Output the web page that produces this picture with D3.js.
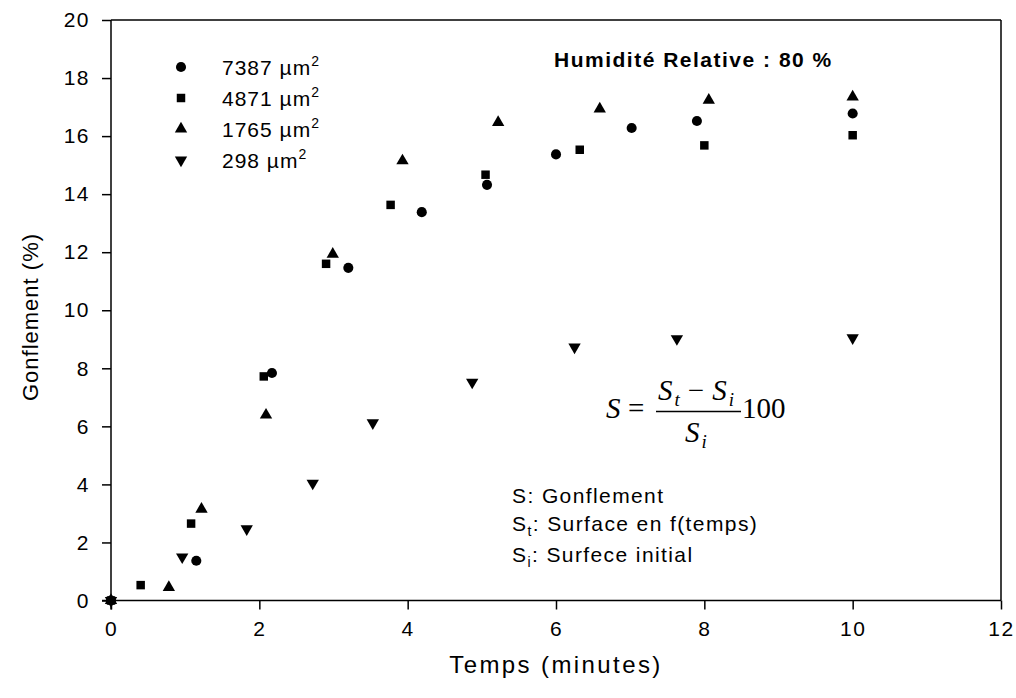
<!DOCTYPE html>
<html>
<head>
<meta charset="utf-8">
<script src="https://cdn.jsdelivr.net/npm/d3@7"></script>
<style>
  body { margin: 0; background: #fff; }
  text { font-family: Arial, "Liberation Sans", sans-serif; fill: #000; }
  .axis path, .axis line { stroke: #000; stroke-width: 1.5px; }
  .axis text { font-size: 21px; letter-spacing: 1.5px; }
  .formula text { font-family: "Times New Roman", "Liberation Serif", serif; font-style: italic; font-size: 29px; }
</style>
</head>
<body>
<div class="chart-area"></div>
<script>
var seriesNames = [ "7387", "4871", "1765", "298" ];

var t7387 = [ 0, 1.15, 2.17, 3.20, 4.19, 5.07, 6.00, 7.02, 7.90, 10.0 ],
    g7387 = [ 0, 1.37, 7.84, 11.46, 13.38, 14.32, 15.37, 16.28, 16.52, 16.78 ];
var t4871 = [ 0, 0.40, 1.08, 2.06, 2.90, 3.77, 5.05, 6.32, 8.00, 10.0 ],
    g4871 = [ 0, 0.53, 2.65, 7.72, 11.60, 13.63, 14.67, 15.53, 15.68, 16.03 ];
var t1765 = [ 0, 0.78, 1.22, 2.09, 2.99, 3.93, 5.22, 6.59, 8.06, 10.0 ],
    g1765 = [ 0, 0.45, 3.15, 6.39, 11.93, 15.15, 16.47, 16.94, 17.24, 17.35 ];
var t298  = [ 0, 0.96, 1.83, 2.72, 3.53, 4.87, 6.25, 7.63, 10.0 ],
    g298  = [ 0, 1.50, 2.47, 4.04, 6.12, 7.52, 8.73, 9.02, 9.05 ];

var xTicks = [ 0, 2, 4, 6, 8, 10, 12 ],
    yTicks = [ 0, 2, 4, 6, 8, 10, 12, 14, 16, 18, 20 ];

var times = [ t7387, t4871, t1765, t298 ],
    values = [ g7387, g4871, g1765, g298 ];

var width = 1016,
    height = 698,
    margin = { top: 20, right: 15, bottom: 97, left: 111 };

var symbols = [ d3.symbolCircle, d3.symbolSquare, d3.symbolTriangle, d3.symbolTriangle ],
    symbolSizes = [ 80, 72, 66, 66 ];

var svg = d3.select(".chart-area")
            .append("svg")
            .attr("width", width)
            .attr("height", height);

var x = d3.scaleLinear().domain([0, 12]).range([0, 890]),
    y = d3.scaleLinear().domain([0, 20]).range([580.5, 0]);

var g = svg.append("g")
           .attr("transform", "translate(" + margin.left + "," + margin.top + ")");

// frame (top and right)
g.append("line").attr("x1", 0).attr("x2", x(12)).attr("y1", y(20)).attr("y2", y(20))
 .attr("stroke", "#000").attr("stroke-width", 1.5);
g.append("line").attr("x1", x(12)).attr("x2", x(12)).attr("y1", y(20)).attr("y2", y(0))
 .attr("stroke", "#000").attr("stroke-width", 1.5);

g.append("g")
 .attr("class", "axis")
 .attr("transform", "translate(0," + y(0) + ")")
 .call(d3.axisBottom(x).tickValues(xTicks).tickSize(9).tickPadding(12).tickSizeOuter(0))
 .call(function(s) { s.select(".domain").remove(); })
 .append("line").attr("x1", -9).attr("x2", x(12)).attr("stroke", "#000").attr("stroke-width", 1.5);

g.append("g")
 .attr("class", "axis")
 .call(d3.axisLeft(y).tickValues(yTicks).tickSize(9).tickPadding(12).tickSizeOuter(0))
 .call(function(s) { s.select(".domain").remove(); })
 .append("line").attr("y1", 0).attr("y2", y(0) + 9).attr("stroke", "#000").attr("stroke-width", 1.5);

// points
seriesNames.forEach(function(name, k) {
  var pts = times[k].map(function(t, i) { return [t, values[k][i]]; });
  g.selectAll(".pt" + k)
   .data(pts)
   .enter()
   .append("path")
   .attr("class", "pt" + k)
   .attr("d", d3.symbol().type(symbols[k]).size(symbolSizes[k]))
   .attr("fill", "#000")
   .attr("transform", function(d) {
     return "translate(" + x(d[0]) + "," + y(d[1]) + ")" + (k == 3 ? " rotate(180)" : "");
   });
});

// legend
var legendY = [ 67, 98, 129, 160 ];
seriesNames.forEach(function(name, k) {
  svg.append("path")
     .attr("d", d3.symbol().type(symbols[k]).size(symbolSizes[k]))
     .attr("fill", "#000")
     .attr("transform", "translate(181," + legendY[k] + ")" + (k == 3 ? " rotate(180)" : ""));
  var t = svg.append("text")
     .attr("x", 222)
     .attr("y", legendY[k] + 8)
     .style("font-size", "21px")
     .style("letter-spacing", "1px");
  t.append("tspan").text(name + " \u00b5m");
  t.append("tspan").attr("dy", -9).style("font-size", "14px").text("2");
});

svg.append("text")
   .attr("x", 554)
   .attr("y", 67)
   .style("font-size", "21px")
   .style("font-weight", "bold")
   .style("letter-spacing", "1.5px")
   .text("Humidité Relative : 80 %");

// formula
var f = svg.append("g").attr("class", "formula");
f.append("text").attr("x", 606).attr("y", 418).text("S");
f.append("text").attr("x", 628).attr("y", 418).style("font-style", "normal").text("=");
var num = f.append("text").attr("x", 658).attr("y", 400);
num.append("tspan").text("S");
num.append("tspan").attr("dy", 6).attr("dx", 2).style("font-size", "19px").text("t");
num.append("tspan").attr("dy", -6).attr("dx", 8).style("font-style", "normal").text("\u2212");
num.append("tspan").attr("dx", 8).text("S");
num.append("tspan").attr("dy", 6).attr("dx", 2).style("font-size", "19px").text("i");
f.append("line").attr("x1", 656).attr("x2", 741).attr("y1", 411.5).attr("y2", 411.5)
 .attr("stroke", "#000").attr("stroke-width", 1.3);
var den = f.append("text").attr("x", 685).attr("y", 442);
den.append("tspan").text("S");
den.append("tspan").attr("dy", 6).attr("dx", 2).style("font-size", "19px").text("i");
f.append("text").attr("x", 742).attr("y", 418).style("font-style", "normal").text("100");

// notes
var notes = svg.append("g").style("font-size", "21px").style("letter-spacing", "1.4px");
notes.append("text").attr("x", 512).attr("y", 503).text("S: Gonflement");
var n2 = notes.append("text").attr("x", 512).attr("y", 531);
n2.append("tspan").text("S");
n2.append("tspan").attr("dy", 5).style("font-size", "14px").text("t");
n2.append("tspan").attr("dy", -5).text(": Surface en f(temps)");
var n3 = notes.append("text").attr("x", 512).attr("y", 562);
n3.append("tspan").text("S");
n3.append("tspan").attr("dy", 5).style("font-size", "14px").text("i");
n3.append("tspan").attr("dy", -5).text(": Surfece initial");

// axis titles
svg.append("text")
   .attr("x", 556)
   .attr("y", 673)
   .attr("text-anchor", "middle")
   .style("font-size", "24px")
   .style("letter-spacing", "2.4px")
   .text("Temps (minutes)");

svg.append("text")
   .attr("transform", "translate(38,317) rotate(-90)")
   .attr("text-anchor", "middle")
   .style("font-size", "22px")
   .style("letter-spacing", "1px")
   .text("Gonflement (%)");
</script>
</body>
</html>
